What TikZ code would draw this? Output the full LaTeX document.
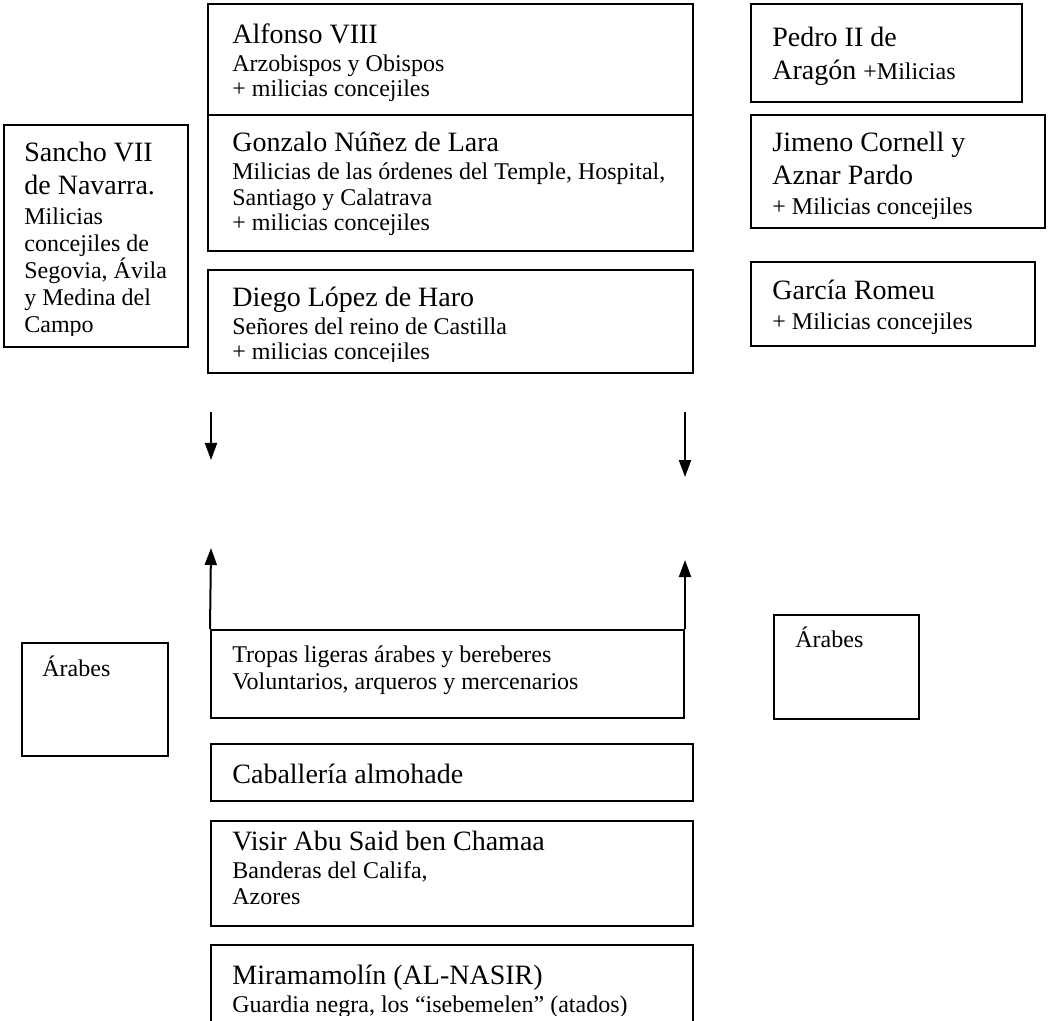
\documentclass[tikz,border=0pt]{standalone}
\usepackage{fontspec}
\setmainfont{Liberation Serif}
\usepackage{tikz}
\usetikzlibrary{
    arrows.meta,
    fit
}
\setlength{\lineskiplimit}{-100pt}
\newcommand{\grande}{\fontsize{14}{14}\selectfont}
\newcommand{\chico}{\fontsize{12}{12}\selectfont}
\tikzset{
    % Boxes
    box/.style={draw, line width=1pt, inner sep=0pt},
    %
    % Texts (placed by the baseline of their last line)
    box text/.style={anchor=base west, align=left, inner sep=0pt, font=\fontsize{12}{12.75}\selectfont},
    side text/.style={box text, font=\fontsize{12}{13.5}\selectfont},
    %
    % Arrows
    arrow tip/.tip={Triangle[length=8.5pt,width=6pt]},
    arr/.style={-{arrow tip}, line width=1pt}
}

\begin{document}
\begin{tikzpicture}[x=0.5pt, y=-0.5pt]
    \clip (0,0) rectangle (1052,1020);
    % Cristianos
    \node[box, fit={(208,4) (693,115)}] (alfonso) {};
    \node[box, fit={(208,115) (693,251)}] (gonzalo) {};
    \node[box, fit={(208,270) (693,373)}] (diego) {};
    \node[box, fit={(4,125) (188,347)}] (sancho) {};
    \node[box, fit={(751,4) (1022,102)}] (pedro) {};
    \node[box, fit={(751,115) (1045,228)}] (jimeno) {};
    \node[box, fit={(751,262) (1035,346)}] (garcia) {};
    \node[box text] (alfonso-txt) at (232,96.7) {\grande Alfonso VIII\\[1.25pt] Arzobispos y Obispos\\ + milicias concejiles};
    \node[box text] (gonzalo-txt) at (232,231) {\grande Gonzalo Núñez de Lara\\[1.25pt] Milicias de las órdenes del Temple, Hospital,\\ Santiago y Calatrava\\ + milicias concejiles};
    \begin{scope}
        \clip (208,270) rectangle (693,362);
        \node[box text] (diego-txt) at (232,360) {\grande Diego López de Haro\\[1.25pt] Señores del reino de Castilla\\ + milicias concejiles};
    \end{scope}
    \begin{scope}
        \clip (4,125) rectangle (188,336);
        \node[side text] (sancho-txt) at (24,333) {\grande Sancho VII\\[3pt] \grande de Navarra.\\[1.5pt] Milicias\\ concejiles de\\ Segovia, Ávila\\ y Medina del\\ Campo};
    \end{scope}
    \node[side text] (pedro-txt) at (772,80) {\grande Pedro II de\\[3pt] \grande Aragón {\chico +Milicias}};
    \node[side text] (jimeno-txt) at (772,215) {\grande Jimeno Cornell y\\[3pt] \grande Aznar Pardo\\[1.5pt] + Milicias concejiles};
    \node[side text] (garcia-txt) at (772,330) {\grande García Romeu\\[1.5pt] + Milicias concejiles};
    % Flechas
    \coordinate (baja izq) at (211,412);
    \coordinate (baja izq fin) at (211,460);
    \coordinate (baja der) at (685,412);
    \coordinate (baja der fin) at (685,477);
    \draw[arr] (baja izq) -- (baja izq fin);
    \draw[arr] (baja der) -- (baja der fin);
    % Almohades
    \node[box, fit={(211,630) (684,718)}] (tropas) {};
    \node[box, fit={(22,643) (168,756)}] (arabes izq) {};
    \node[box, fit={(774,615) (919,719)}] (arabes der) {};
    \node[box, fit={(211,744) (693,801)}] (caballeria) {};
    \node[box, fit={(211,821) (693,926)}] (visir) {};
    \node[box, fit={(211,945) (693,1040)}] (miramamolin) {};
    \coordinate (sube izq) at (211,548);
    \coordinate (sube der) at (685,560);
    \draw[arr] (tropas.north west) -- (sube izq);
    \draw[arr] (tropas.north east) -- (sube der);
    \node[side text] (tropas-txt) at (232,689) {Tropas ligeras árabes y bereberes\\ Voluntarios, arqueros y mercenarios};
    \node[side text] (arabes izq-txt) at (42,676) {Árabes};
    \node[side text] (arabes der-txt) at (795,647) {Árabes};
    \node[box text] (caballeria-txt) at (232,783) {\grande Caballería almohade};
    \node[box text] (visir-txt) at (232,904.3) {\grande Visir Abu Said ben Chamaa\\[1.25pt] Banderas del Califa,\\ Azores};
    \begin{scope}
        \clip (211,945) rectangle (693,1015);
        \node[box text] (miramamolin-txt) at (232,1012) {\grande Miramamolín (AL-NASIR)\\[1.25pt] Guardia negra, los “isebemelen” (atados)};
    \end{scope}
\end{tikzpicture}
\end{document}
